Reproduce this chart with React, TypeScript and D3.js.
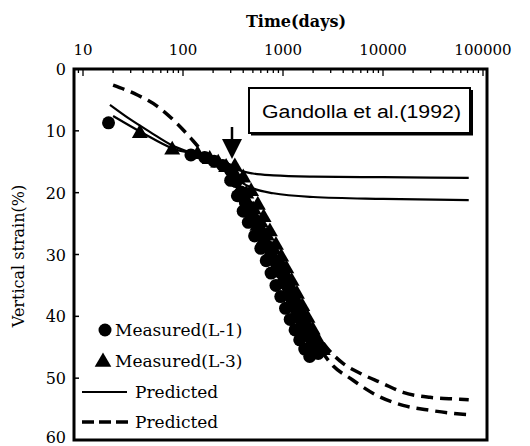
import React from "react";
import * as d3 from "d3";

// ---- data ----
const xTickLabels = [10, 100, 1000, 10000, 100000];
const yTickLabels = [0, 10, 20, 30, 40, 50, 60];

const l1Time = [18, 120, 165, 205, 250, 300, 340, 380, 420, 460, 500, 540, 580, 620, 670, 720, 780, 840, 900, 960, 1030, 1100, 1180, 1260, 1350, 1440, 1540, 1640, 1750, 1860, 1980, 2100, 2250,
  300, 350, 400, 450, 520, 600, 680, 760, 850, 950, 1060, 1180, 1320, 1470, 1650, 1850];
const l1Strain = [8.7, 13.9, 14.3, 14.9, 15.6, 16.4, 18.2, 19.9, 21.6, 22.3, 24.1, 24.6, 26.3, 26.6, 28.4, 28.9, 30.6, 31.2, 32.6, 33.0, 34.6, 35.1, 36.8, 37.3, 38.9, 39.4, 40.8, 41.4, 42.6, 43.4, 44.5, 45.2, 46.0,
  18.0, 20.5, 23.0, 24.8, 27.0, 29.0, 31.0, 33.0, 35.0, 36.8, 38.7, 40.5, 42.2, 43.8, 45.3, 46.5];

const l3Time = [37, 78, 140, 185, 225, 270, 310, 350, 390, 430, 470, 510, 555, 600, 645, 690, 745, 800, 870, 930, 1000, 1070, 1150, 1230, 1320, 1410, 1500, 1600, 1700, 1800, 1920, 2040, 2180,
  330, 400, 480, 560, 640, 740, 850, 960, 1080, 1220, 1380, 1560, 1760, 1980, 2250, 2500];
const l3Strain = [10.4, 13.1, 13.8, 14.6, 15.2, 15.9, 17.6, 17.8, 20.6, 20.2, 23.2, 22.8, 25.4, 24.9, 27.6, 27.0, 29.8, 29.2, 31.9, 31.2, 34.0, 33.4, 36.3, 35.6, 38.4, 37.9, 40.4, 39.8, 42.3, 41.8, 44.2, 43.7, 45.6,
  15.8, 17.6, 19.8, 22.0, 24.0, 26.3, 28.5, 30.4, 32.3, 34.3, 36.4, 38.4, 40.3, 42.2, 44.0, 45.5];

const solidATime = [18.6, 30, 47, 79, 120, 200, 300, 360, 500, 800, 2000, 10000, 72000];
const solidAStrain = [5.8, 8.2, 10.2, 12.4, 13.5, 14.5, 15.5, 16.3, 16.9, 17.2, 17.4, 17.5, 17.6];

const solidBTime = [20, 40, 80, 150, 250, 360, 500, 800, 2000, 10000, 72000];
const solidBStrain = [7.6, 10.4, 12.9, 14.0, 15.4, 18.0, 19.3, 20.1, 20.7, 21.0, 21.2];

const dashedATime = [20, 35, 55, 87, 126, 174, 300, 468, 741, 1175, 1862, 2754, 3981, 5888, 9772, 15849, 29512, 58884, 72000];
const dashedAStrain = [2.6, 4.2, 6.0, 8.8, 11.6, 14.2, 17.2, 21.8, 27.8, 34.6, 41.0, 45.1, 47.6, 49.2, 50.8, 52.3, 53.1, 53.4, 53.5];

const dashedBTime = [250, 468, 741, 1175, 1862, 3162, 4677, 8710, 15849, 29512, 58884, 72000];
const dashedBStrain = [15.8, 22.5, 29.0, 36.0, 42.5, 48.0, 50.0, 52.8, 54.4, 55.2, 55.8, 55.9];

const xTitle = "Time(days)";
const yTitle = "Vertical strain(%)";
const annotation = "Gandolla et al.(1992)";
const legendLabels = ["Measured(L-1)", "Measured(L-3)", "Predicted", "Predicted"];

export default function App() {
  const W = 530, H = 446;
  const left = 74, right = 487, top = 69, bottom = 440;
  const x = d3.scaleLog().domain([10, 100000]).range([83, 483]);
  const y = d3.scaleLinear().domain([0, 60]).range([top, bottom]);

  const line = d3
    .line<[number, number]>()
    .x((d) => x(d[0]))
    .y((d) => y(d[1]))
    .curve(d3.curveMonotoneX);

  const zip = (a: number[], b: number[]) => a.map((v, i) => [v, b[i]] as [number, number]);

  const serif = "'DejaVu Serif', 'Liberation Serif', serif";

  const ticks: { t: number; major: boolean }[] = [];
  for (let d = 0; d <= 5; d++) {
    for (let k = 1; k <= 9; k++) {
      const t = k * Math.pow(10, d);
      const px = x(t);
      if (px > left + 1 && px < right - 1) ticks.push({ t, major: k === 1 });
    }
  }

  const tri = d3.symbol().type(d3.symbolTriangle).size(110)();
  const triLegend = d3.symbol().type(d3.symbolTriangle).size(120)();

  return (
    <svg width={W} height={H} style={{ display: "block", position: "absolute", left: 0, top: 0 }}>
      <rect x={0} y={0} width={W} height={H} fill="#fff" />
      <text x={296} y={27} textAnchor="middle" fontFamily={serif} fontWeight="bold" fontSize={16}>
        {xTitle}
      </text>
      <text
        transform={`translate(24, ${256}) rotate(-90)`}
        textAnchor="middle"
        fontFamily={serif}
        fontSize={16}
      >
        {yTitle}
      </text>

      {xTickLabels.map((t) => (
        <text key={t} x={x(t)} y={55} textAnchor="middle" fontFamily={serif} fontSize={15}>
          {t}
        </text>
      ))}
      {yTickLabels.map((v) => (
        <text key={v} x={66} y={Math.min(y(v) + 6, 443)} textAnchor="end" fontFamily={serif} fontSize={16}>
          {v}
        </text>
      ))}

      {ticks.map(({ t, major }) => (
        <line key={t} x1={x(t)} x2={x(t)} y1={top} y2={top + (major ? 7 : 4)} stroke="#000" strokeWidth={1.3} />
      ))}
      {yTickLabels.slice(1, -1).map((v) => (
        <line key={v} x1={left} x2={left + 5} y1={y(v)} y2={y(v)} stroke="#000" strokeWidth={1.5} />
      ))}

      <rect x={left} y={top} width={right - left} height={bottom - top} fill="none" stroke="#000" strokeWidth={3} />

      <path d={line(zip(solidATime, solidAStrain)) || ""} fill="none" stroke="#000" strokeWidth={2.2} />
      <path d={line(zip(solidBTime, solidBStrain)) || ""} fill="none" stroke="#000" strokeWidth={2.2} />
      <path d={line(zip(dashedATime, dashedAStrain)) || ""} fill="none" stroke="#000" strokeWidth={3.5} strokeDasharray="12 7" />
      <path d={line(zip(dashedBTime, dashedBStrain)) || ""} fill="none" stroke="#000" strokeWidth={3.5} strokeDasharray="12 7" />

      {l1Time.map((t, i) => (
        <circle key={"c" + i} cx={x(t)} cy={y(l1Strain[i])} r={6.5} fill="#000" />
      ))}
      {l3Time.map((t, i) => (
        <path key={"t" + i} d={tri || ""} transform={`translate(${x(t)}, ${y(l3Strain[i])})`} fill="#000" />
      ))}

      <rect x={249} y={88} width={221} height={45} fill="#fff" stroke="#000" strokeWidth={2} />
      <line x1={251} x2={473} y1={134} y2={134} stroke="#000" strokeWidth={3} />
      <line x1={471.5} x2={471.5} y1={90} y2={135} stroke="#000" strokeWidth={3} />
      <text x={262} y={118} textLength={199} lengthAdjust="spacingAndGlyphs" fontFamily="'Liberation Sans', Arial, sans-serif" fontSize={18}>
        {annotation}
      </text>

      <line x1={232} x2={232} y1={127} y2={142} stroke="#000" strokeWidth={2.5} />
      <path d="M222,139 L242,139 L232,159 Z" fill="#000" />

      <circle cx={105} cy={330} r={6.5} fill="#000" />
      <text x={115} y={336} fontFamily={serif} fontSize={17}>{legendLabels[0]}</text>
      <path d={triLegend || ""} transform="translate(103, 362)" fill="#000" />
      <text x={115} y={367} fontFamily={serif} fontSize={17}>{legendLabels[1]}</text>
      <line x1={82} x2={127} y1={392} y2={392} stroke="#000" strokeWidth={2.2} />
      <text x={135} y={398} fontFamily={serif} fontSize={17}>{legendLabels[2]}</text>
      <line x1={82} x2={128} y1={422} y2={422} stroke="#000" strokeWidth={3.5} strokeDasharray="12 5" />
      <text x={135} y={428} fontFamily={serif} fontSize={17}>{legendLabels[3]}</text>
    </svg>
  );
}
